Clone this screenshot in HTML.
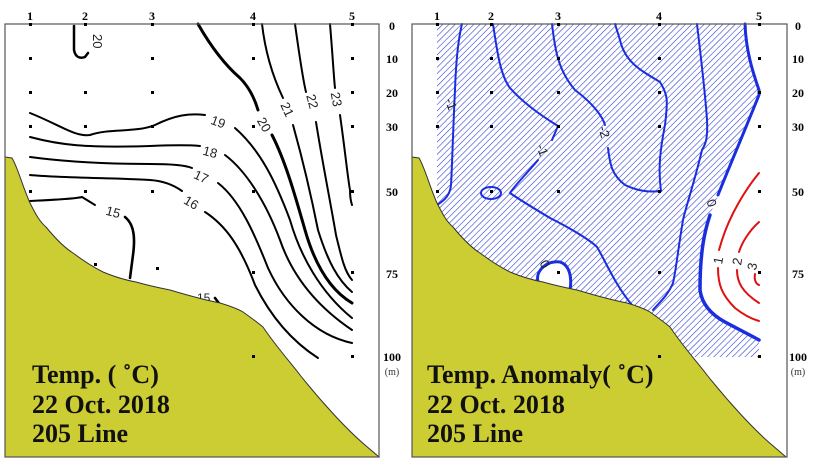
<!DOCTYPE html>
<html><head><meta charset="utf-8"><style>
html,body{margin:0;padding:0;background:#fff;width:820px;height:468px;overflow:hidden}
svg{display:block}
.t{font-family:"Liberation Serif",serif;font-weight:bold}
.c{font-family:"Liberation Sans",sans-serif;font-size:13px}
</style></head><body>
<svg width="820" height="468" viewBox="0 0 820 468" xmlns="http://www.w3.org/2000/svg">
<defs>
<pattern id="h" patternUnits="userSpaceOnUse" width="4.4" height="4.4" patternTransform="rotate(45)">
<line x1="0" y1="0" x2="0" y2="4.4" stroke="#2233cc" stroke-width="1.1"/>
</pattern>
</defs>
<!-- LEFT PANEL -->
<rect x="5" y="24" width="374" height="433" fill="#fff"/>
<g fill="none" stroke="#000" stroke-width="2" stroke-linecap="round">
<path d="M74,26 L74,50 Q76,60 85,57 L88,53" stroke-width="2.5"/>
<path d="M198,24 C210,45 225,65 240,78 C250,88 255,100 258,110" stroke-width="3"/>
<path d="M272,135 C285,160 295,195 305,230 C315,265 330,290 352,303" stroke-width="3"/>
<path d="M262,24 C265,50 272,75 283,98"/>
<path d="M293,125 C300,150 310,190 318,230 C328,262 338,280 352,292"/>
<path d="M295,24 C300,60 303,80 306,92"/>
<path d="M316,122 C322,160 330,200 336,235 C342,260 345,272 352,280"/>
<path d="M330,24 C333,60 334,80 335,88"/>
<path d="M340,115 C345,150 348,180 350,190 C350,198 351,202 352,205"/>
<path d="M30,113 C60,125 75,137 90,135 C110,128 135,133 155,125 C175,115 190,113 205,115"/>
<path d="M235,128 C260,150 275,180 290,220 C300,255 320,292 352,318"/>
<path d="M30,137 C60,145 85,148 150,146 C175,145 190,145 200,146"/>
<path d="M225,155 C245,170 265,200 280,240 C292,275 315,305 352,330"/>
<path d="M30,157 C60,161 100,164 150,164 C170,164 185,165 192,168"/>
<path d="M218,183 C240,200 255,235 268,268 C285,305 315,335 352,343"/>
<path d="M30,175 C60,178 120,178 150,180 C165,181 175,186 182,191"/>
<path d="M205,212 C225,225 240,245 255,285 C270,315 290,340 318,358"/>
<path d="M30,201 C50,200 75,199 82,197 L95,205"/>
<path d="M125,217 C135,225 135,240 133,255 L130,278" stroke-width="2.6"/>
<path d="M215,298 L221,306" stroke-width="2.6"/>
</g>
<g class="c" fill="#222">
<text x="82" y="35" transform="rotate(90 88 40)">20</text>
<text x="257" y="130" transform="rotate(60 265 125)">20</text>
<text x="280" y="115" transform="rotate(65 288 110)">21</text>
<text x="305" y="107" transform="rotate(75 313 102)">22</text>
<text x="329" y="105" transform="rotate(80 337 100)">23</text>
<text x="211" y="127" transform="rotate(20 220 122)">19</text>
<text x="203" y="157" transform="rotate(15 212 152)">18</text>
<text x="194" y="182" transform="rotate(25 203 177)">17</text>
<text x="184" y="208" transform="rotate(30 193 203)">16</text>
<text x="106" y="217" transform="rotate(15 115 212)">15</text>
<text x="197" y="302" font-size="12">15</text>
</g>
<path d="M5,157 L12,158 C18,168 22,185 30,203 C36,215 40,222 46,227 C55,238 65,248 73,253 C85,262 95,268 103,272 C115,277 125,280 136,282 C150,286 160,288 170,290 C190,296 205,300 220,303 C230,306 238,309 243,312 C250,317 257,322 263,327 C275,345 290,362 300,375 C320,400 345,428 365,445 L379,457 L5,457 Z" fill="#cccc33" stroke="#333" stroke-width="1"/>
<rect x="5" y="24" width="374" height="433" fill="none" stroke="#555" stroke-width="1.2"/>
<!-- RIGHT PANEL -->
<rect x="412" y="24" width="375" height="433" fill="#fff"/>
<rect x="437" y="24" width="322" height="333" fill="url(#h)"/>
<path d="M745,24 C746,50 752,70 759,90 L759,95 C745,130 725,180 712,210 C705,230 700,250 700,290 C702,305 712,315 725,322 C740,330 752,336 759,340 L786,340 L786,24 Z" fill="#fff"/>
<path d="M537,285 C535,270 545,262 558,261 C568,262 572,275 570,290 Z" fill="#fff"/>
<g fill="none" stroke="#1a2ee0" stroke-width="2" stroke-linecap="round">
<path d="M462,24 C458,40 456,60 455,90 C453,130 452,170 451,185 C450,195 445,200 437,205"/>
<path d="M493,24 C497,50 500,75 510,88 C525,105 545,118 558,126 L552,140"/>
<path d="M538,160 C530,170 515,185 510,193 C520,200 540,212 550,218 C570,228 590,240 597,247 C605,260 615,285 632,305"/>
<ellipse cx="491" cy="193" rx="10" ry="6"/>
<path d="M552,24 C555,50 558,70 575,90 C595,105 603,118 605,125"/>
<path d="M608,148 C610,165 612,175 625,185 C640,192 650,192 661,191 C658,170 660,150 665,125 C668,100 668,95 660,82 C640,70 625,62 620,40 L615,24"/>
<path d="M697,24 C700,50 705,90 707,120 C708,140 705,145 702,150 C695,180 685,210 683,220 C678,250 676,270 673,283 C668,295 660,302 653,310"/>
<path d="M745,24 C746,50 752,70 759,90 L759,95 C745,130 730,165 718,195" stroke-width="3"/>
<path d="M710,215 C705,230 700,250 700,290 C702,305 712,315 725,322 C740,330 752,336 759,340" stroke-width="3.5"/>
<path d="M538,282 C535,270 548,260 560,262 C570,265 572,278 570,290" stroke-width="3"/>
</g>
<g fill="none" stroke="#e01010" stroke-width="2" stroke-linecap="round">
<path d="M759,173 C745,190 730,215 722,240 L719,250"/>
<path d="M718,268 C718,285 722,295 735,308 C745,316 752,319 759,321"/>
<path d="M759,222 C750,230 742,242 739,252"/>
<path d="M737,270 C737,282 742,292 759,303"/>
<path d="M755,274 C754,280 756,284 759,285"/>
</g>
<g class="c">
<text x="445" y="110" transform="rotate(70 452 105)" fill="#222">-1</text>
<text x="537" y="155" transform="rotate(70 543 150)" fill="#222">-1</text>
<text x="598" y="138" transform="rotate(75 605 133)" fill="#222">-2</text>
<text x="707" y="210" transform="rotate(70 713 205)" fill="#222">0</text>
<text x="541" y="270" transform="rotate(60 546 265)" fill="#222">0</text>
<text x="713" y="264" transform="rotate(-80 718 259)" fill="#222">1</text>
<text x="732" y="265" transform="rotate(-80 737 260)" fill="#222">2</text>
<text x="747" y="270" transform="rotate(-80 752 265)" fill="#222">3</text>
</g>
<path d="M412,157 L419,158 C425,168 429,185 437,203 C443,215 447,222 453,227 C462,238 472,248 480,253 C492,262 502,268 510,272 C522,277 532,280 543,282 C557,286 567,288 577,290 C597,296 612,300 627,303 C637,306 645,309 650,312 C657,317 664,322 670,327 C682,345 697,362 707,375 C727,400 752,428 772,445 L786,457 L412,457 Z" fill="#cccc33" stroke="#333" stroke-width="1"/>
<rect x="412" y="24" width="375" height="433" fill="none" stroke="#555" stroke-width="1.2"/>
<!-- dots & labels -->
<g fill="#000">
<rect x="29" y="23" width="3" height="3"/><rect x="84" y="23" width="3" height="3"/><rect x="151" y="23" width="3" height="3"/><rect x="252" y="23" width="3" height="3"/><rect x="351" y="23" width="3" height="3"/>
<rect x="29" y="57" width="3" height="3"/><rect x="151" y="57" width="3" height="3"/><rect x="252" y="57" width="3" height="3"/><rect x="351" y="57" width="3" height="3"/>
<rect x="29" y="91" width="3" height="3"/><rect x="84" y="91" width="3" height="3"/><rect x="151" y="91" width="3" height="3"/><rect x="351" y="91" width="3" height="3"/>
<rect x="29" y="125" width="3" height="3"/><rect x="84" y="125" width="3" height="3"/><rect x="151" y="125" width="3" height="3"/><rect x="252" y="125" width="3" height="3"/><rect x="351" y="125" width="3" height="3"/>
<rect x="29" y="190" width="3" height="3"/><rect x="84" y="190" width="3" height="3"/><rect x="151" y="190" width="3" height="3"/><rect x="252" y="190" width="3" height="3"/><rect x="351" y="190" width="3" height="3"/>
<rect x="94" y="263" width="3" height="3"/><rect x="156" y="267" width="3" height="3"/><rect x="252" y="271" width="3" height="3"/><rect x="351" y="271" width="3" height="3"/>
<rect x="252" y="355" width="3" height="3"/><rect x="351" y="355" width="3" height="3"/>
<rect x="436" y="23" width="3" height="3"/><rect x="490" y="23" width="3" height="3"/><rect x="557" y="23" width="3" height="3"/><rect x="658" y="23" width="3" height="3"/><rect x="758" y="23" width="3" height="3"/>
<rect x="436" y="57" width="3" height="3"/><rect x="490" y="57" width="3" height="3"/><rect x="557" y="57" width="3" height="3"/><rect x="658" y="57" width="3" height="3"/><rect x="758" y="57" width="3" height="3"/>
<rect x="436" y="91" width="3" height="3"/><rect x="490" y="91" width="3" height="3"/><rect x="557" y="91" width="3" height="3"/><rect x="658" y="91" width="3" height="3"/><rect x="758" y="91" width="3" height="3"/>
<rect x="436" y="125" width="3" height="3"/><rect x="490" y="125" width="3" height="3"/><rect x="557" y="125" width="3" height="3"/><rect x="658" y="125" width="3" height="3"/><rect x="758" y="125" width="3" height="3"/>
<rect x="436" y="190" width="3" height="3"/><rect x="490" y="190" width="3" height="3"/><rect x="557" y="190" width="3" height="3"/><rect x="658" y="190" width="3" height="3"/><rect x="758" y="190" width="3" height="3"/>
<rect x="557" y="271" width="3" height="3"/><rect x="658" y="271" width="3" height="3"/><rect x="758" y="271" width="3" height="3"/>
<rect x="658" y="355" width="3" height="3"/><rect x="758" y="355" width="3" height="3"/>
</g>
<g class="t" font-size="12" fill="#000" text-anchor="middle">
<text x="30" y="20">1</text><text x="85" y="20">2</text><text x="152" y="20">3</text><text x="253" y="20">4</text><text x="352" y="20">5</text>
<text x="437" y="20">1</text><text x="491" y="20">2</text><text x="558" y="20">3</text><text x="659" y="20">4</text><text x="759" y="20">5</text>
</g>
<g class="t" font-size="12" fill="#000" text-anchor="middle">
<text x="392" y="30">0</text><text x="392" y="63">10</text><text x="392" y="97">20</text><text x="392" y="131">30</text><text x="392" y="196">50</text><text x="392" y="278">75</text><text x="392" y="361">100</text>
<text x="798" y="30">0</text><text x="798" y="63">10</text><text x="798" y="97">20</text><text x="798" y="131">30</text><text x="798" y="196">50</text><text x="798" y="278">75</text><text x="798" y="361">100</text>
</g>
<g font-family="Liberation Serif,serif" font-size="10" fill="#333" text-anchor="middle">
<text x="392" y="375">(m)</text><text x="798" y="375">(m)</text>
</g>
<g class="t" font-size="26" fill="#111">
<text x="32" y="383">Temp. ( ˚C)</text>
<text x="32" y="413">22 Oct. 2018</text>
<text x="32" y="442">205 Line</text>
<text x="427" y="383">Temp. Anomaly( ˚C)</text>
<text x="427" y="413">22 Oct. 2018</text>
<text x="427" y="442">205 Line</text>
</g>
</svg>
</body></html>
